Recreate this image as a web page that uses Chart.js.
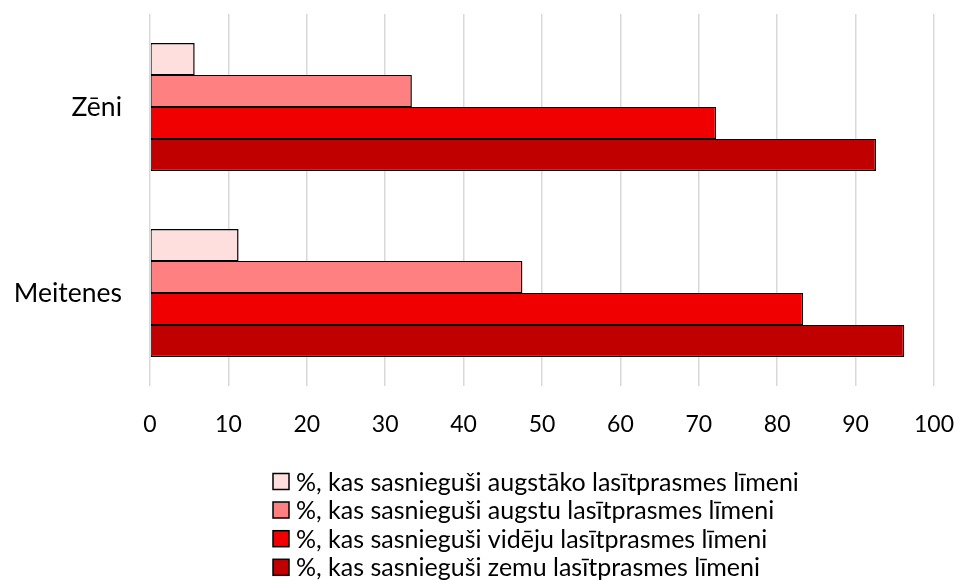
<!DOCTYPE html>
<html><head><meta charset="utf-8">
<script src="https://cdn.jsdelivr.net/npm/chart.js@4"></script>
<style>html,body{margin:0;padding:0;background:#fff;} #wrap{width:959px;height:580px;position:relative}</style>
</head><body><div id="wrap"><canvas id="c" width="959" height="580"></canvas></div>
<script>
const categories = ['Zēni', 'Meitenes'];
const seriesLabels = [
  '%, kas sasnieguši augstāko lasītprasmes līmeni',
  '%, kas sasnieguši augstu lasītprasmes līmeni',
  '%, kas sasnieguši vidēju lasītprasmes līmeni',
  '%, kas sasnieguši zemu lasītprasmes līmeni'
];
const augstakais = [5.7, 11.3];
const augstu = [33.4, 47.5];
const videju = [72.2, 83.3];
const zemu = [92.6, 96.2];
const xTickValues = [0, 10, 20, 30, 40, 50, 60, 70, 80, 90, 100];

const colors = ['#FFDEDE', '#FF8080', '#F00000', '#C00000'];
const FONT = "Lato, Carlito, Calibri, sans-serif";
const seriesValues = [augstakais, augstu, videju, zemu];

const legendPlugin = {
  id: 'customLegend',
  afterDraw(chart) {
    const ctx = chart.ctx;
    ctx.save();
    ctx.font = '25px ' + FONT;
    ctx.textBaseline = 'middle';
    ctx.textAlign = 'left';
    const rowY = [481.5, 510, 538.7, 567.3];
    chart.data.datasets.forEach((ds, i) => {
      const y = rowY[i];
      ctx.fillStyle = ds.backgroundColor;
      ctx.fillRect(273, y - 8, 16, 16);
      ctx.lineWidth = 1.5;
      ctx.strokeStyle = '#000';
      ctx.strokeRect(273, y - 8, 16, 16);
      ctx.fillStyle = '#000';
      ctx.fillText(ds.label, 296, y + 1);
    });
    ctx.restore();
  }
};

function zeroPad(scale) {
  scale.paddingTop = 0; scale.paddingBottom = 0;
  scale.paddingLeft = 0; scale.paddingRight = 0;
}

new Chart(document.getElementById('c'), {
  type: 'bar',
  data: {
    labels: categories,
    datasets: seriesValues.map((vals, i) => ({
      label: seriesLabels[i],
      data: vals,
      backgroundColor: colors[i],
      borderColor: '#000',
      borderWidth: { top: i === 0 ? 1.5 : 1, bottom: i === 3 ? 1.5 : 1, left: 1, right: 1.5 },
      borderSkipped: false,
      categoryPercentage: 0.688,
      barPercentage: 1.0
    }))
  },
  options: {
    indexAxis: 'y',
    responsive: false,
    animation: false,
    devicePixelRatio: 1,
    layout: { padding: { top: 14, right: 25, left: 0, bottom: 124 } },
    plugins: { legend: { display: false }, tooltip: { enabled: false } },
    scales: {
      y: {
        grid: { display: false, drawTicks: false },
        border: { display: false },
        ticks: { color: '#000', font: { family: FONT, size: 26.5 }, padding: 28 },
        afterFit(scale) { scale.width = 150; zeroPad(scale); }
      },
      x: {
        min: 0, max: 100,
        afterBuildTicks(scale) { scale.ticks = xTickValues.map(v => ({ value: v })); },
        grid: { color: '#D9D9D9', lineWidth: 1.5, drawTicks: false },
        border: { display: false },
        ticks: { color: '#000', font: { family: FONT, size: 23 }, padding: 25, maxRotation: 0 },
        afterFit(scale) { scale.height = 70; zeroPad(scale); }
      }
    }
  },
  plugins: [legendPlugin]
});
</script>
</body></html>
